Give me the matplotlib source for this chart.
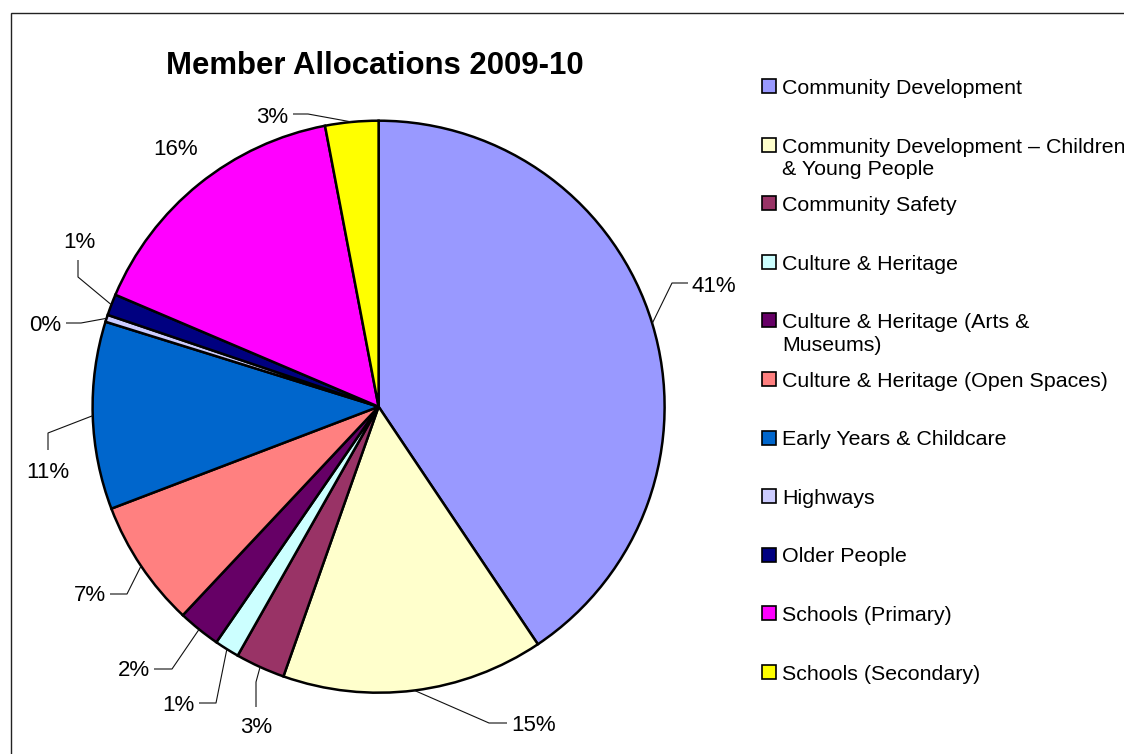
import numpy as np
import matplotlib.pyplot as plt
from matplotlib.patches import Rectangle

plt.rcParams['font.family'] = ['Liberation Sans', 'DejaVu Sans']

# Data (share of member allocations, %)
categories = [
    "Community Development",
    "Community Development – Children\n& Young People",
    "Community Safety",
    "Culture & Heritage",
    "Culture & Heritage (Arts &\nMuseums)",
    "Culture & Heritage (Open Spaces)",
    "Early Years & Childcare",
    "Highways",
    "Older People",
    "Schools (Primary)",
    "Schools (Secondary)",
]
shares = [40.6, 14.8, 2.8, 1.4, 2.4, 7.2, 10.6, 0.4, 1.2, 15.6, 3.0]
colors = ["#9999FF", "#FFFFCC", "#993366", "#CCFFFF", "#660066", "#FF8080",
          "#0066CC", "#CCCCFF", "#000080", "#FF00FF", "#FFFF00"]

# Layout (pixels): leader elbow, leader end, label position, alignment
W, H = 1124, 754
CX, CY, R = 378.6, 406.7, 286.0
label_layout = [
    ((672, 283), (688, 283), (692, 284), 'left'),
    ((489, 723), (507, 723), (511, 723), 'left'),
    ((256, 682), (256, 707), (256, 725), 'center'),
    ((216, 703), (199, 703), (195, 703), 'right'),
    ((172, 669), (154, 669), (150, 668), 'right'),
    ((127, 594), (110, 594), (106, 593), 'right'),
    ((48, 433), (48, 450), (48, 470), 'center'),
    ((81, 323), (66, 323), (61, 323), 'right'),
    ((78, 277), (78, 260), (79, 240), 'center'),
    (None, None, (176, 147), 'center'),
    ((308, 114), (293, 114), (288, 115), 'right'),
]


def px2d(px, py):
    return (px - CX) / R, (CY - py) / R


fig = plt.figure(figsize=(W / 100, H / 100), dpi=100)
ax = fig.add_axes([0, 0, 1, 1])

wedges, _ = ax.pie(shares, colors=colors, startangle=90, counterclock=False,
                   radius=1, wedgeprops=dict(edgecolor='black', linewidth=1.8))
ax.set_aspect('auto')
ax.set_xlim(-CX / R, (W - CX) / R)
ax.set_ylim((CY - H) / R, CY / R)
ax.axis('off')

total = sum(shares)
lab_size = 16
for w, v, (elbow, end, txt, ha) in zip(wedges, shares, label_layout):
    pct = "%d%%" % int(round(v / total * 100))
    if elbow is not None:
        mid = np.deg2rad((w.theta1 + w.theta2) / 2)
        ex, ey = np.cos(mid), np.sin(mid)
        bx, by = px2d(*elbow)
        nx, ny = px2d(*end)
        ax.plot([ex, bx, nx], [ey, by, ny], color='#111111', lw=0.8,
                solid_capstyle='butt', zorder=3)
    # baseline below the visual centre of the digits
    tx, ty = px2d(txt[0], txt[1] + 0.36 * lab_size * 100 / 72)
    ax.text(tx, ty, pct, ha=ha, va='baseline', fontsize=lab_size)

# Title
fig.text(375 / W, 1 - 66 / H, "Member Allocations 2009-10", ha='center',
         va='center', fontsize=22.4, fontweight='bold')

# Legend, drawn by hand to follow the reference spacing
leg_size = 15.4
for i, (name, c) in enumerate(zip(categories, colors)):
    yc = 86 + i * 58.6
    fig.patches.append(Rectangle((762 / W, 1 - (yc + 7) / H), 14 / W, 14 / H,
                                 transform=fig.transFigure, facecolor=c,
                                 edgecolor='black', lw=1.2))
    # multi-line text sits on the baseline of its last line
    extra = 23 * name.count("\n")
    fig.text(782 / W, 1 - (yc + extra + 0.36 * leg_size * 100 / 72) / H, name,
             ha='left', va='baseline', fontsize=leg_size, linespacing=1.25)

# Chart border
fig.patches.append(Rectangle((11 / W, -0.1), 2, 1.1 - 13 / H,
                             transform=fig.transFigure, fill=False,
                             edgecolor='#222222', lw=1.0))

plt.savefig('out.png', dpi=100)
